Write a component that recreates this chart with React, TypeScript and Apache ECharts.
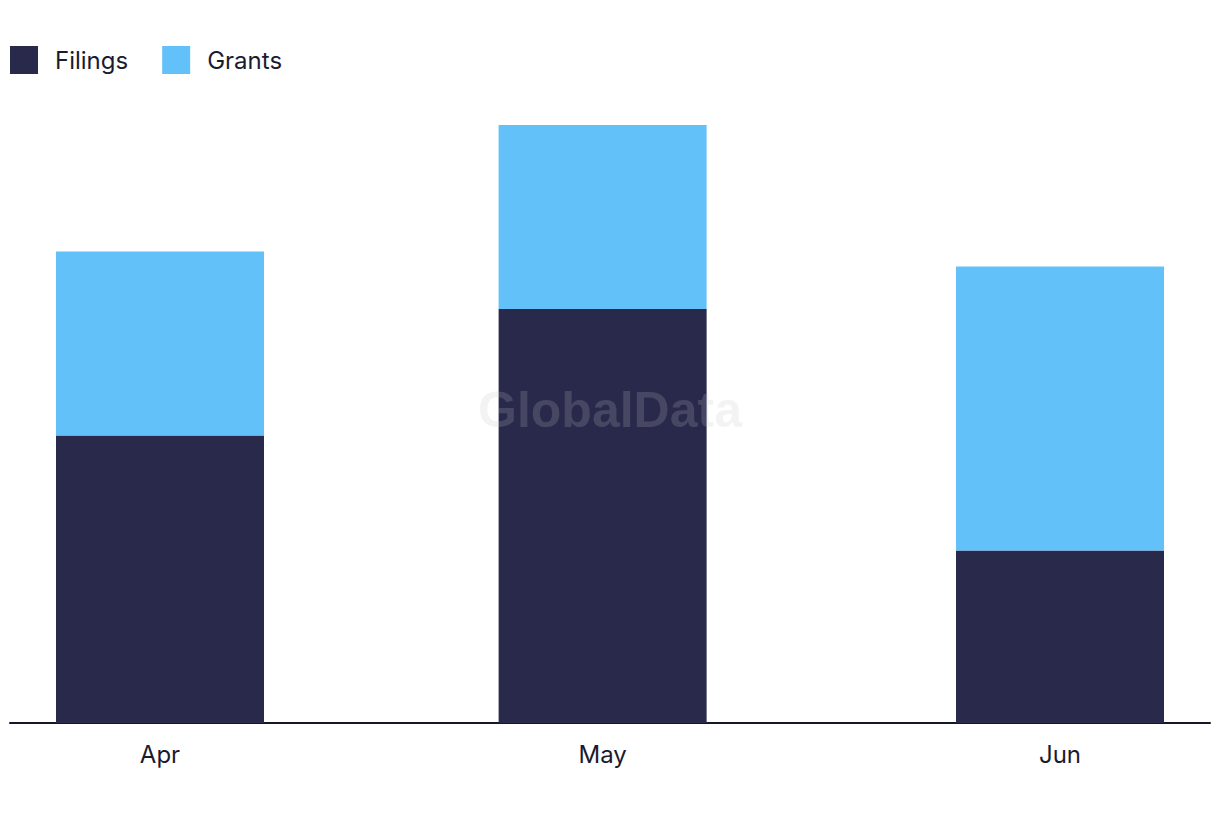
import React, { useEffect, useRef } from "react";
import * as echarts from "echarts";

const monthNames = ["Jan", "Feb", "Mar", "Apr", "May", "Jun", "Jul", "Aug", "Sep", "Oct", "Nov", "Dec"];
const periods = [new Date(2024, 3, 1).getTime(), new Date(2024, 4, 1).getTime(), new Date(2024, 5, 1).getTime()];
const filings = [25, 36, 15];
const grants = [16, 16, 24.7];
const seriesNames = ["Filings", "Grants"];

const DAY = 86400000;
// ECharts widens a time axis that carries bars by the bar overflow; this padding
// (in days) yields about 10 days of margin on each side after that widening.
const PAD_DAYS = 3.118;

export default function App() {
  const ref = useRef<HTMLDivElement>(null);
  useEffect(() => {
    document.body.style.margin = "0";
    const chart = echarts.init(ref.current!, null, { renderer: "svg" });
    const font = "Inter, 'Noto Sans', sans-serif";
    chart.setOption({
      animation: false,
      backgroundColor: "#ffffff",
      legend: {
        left: 10,
        top: 46,
        padding: 0,
        itemWidth: 28,
        itemHeight: 28,
        itemGap: 34,
        icon: "rect",
        data: seriesNames,
        textStyle: { fontSize: 24, color: "#1b1b30", fontFamily: font, padding: [0, 0, 6, 12] },
      },
      grid: { left: 10, right: 10, top: 33, bottom: 99, containLabel: false },
      xAxis: {
        type: "time",
        min: periods[0] - PAD_DAYS * DAY,
        max: periods[2] + PAD_DAYS * DAY,
        splitNumber: 3,
        axisLine: { show: true, onZero: false, lineStyle: { color: "#16162a", width: 2 } },
        axisTick: { show: false },
        splitLine: { show: false },
        axisLabel: {
          margin: 19,
          fontSize: 24,
          color: "#1b1b30",
          fontFamily: font,
          hideOverlap: false,
          showMinLabel: false,
          showMaxLabel: false,
          formatter: (v: number) => {
            const d = new Date(v);
            return periods.indexOf(v) >= 0 ? monthNames[d.getMonth()] : "";
          },
        },
      },
      yAxis: {
        type: "value",
        min: 0,
        max: 60,
        show: false,
        splitLine: { show: false },
      },
      graphic: [
        {
          type: "text",
          left: "center",
          top: 385,
          z: 100,
          style: {
            text: "GlobalData",
            fontSize: 50,
            fontWeight: "bold",
            fontFamily: "'Liberation Sans', Arial, sans-serif",
            fill: "rgba(196,196,196,0.2)",
          },
        },
      ],
      series: [
        {
          name: seriesNames[0],
          type: "bar",
          stack: "total",
          barWidth: 208,
          itemStyle: { color: "#28294b" },
          data: periods.map((t, i) => [t, filings[i]]),
        },
        {
          name: seriesNames[1],
          type: "bar",
          stack: "total",
          barWidth: 208,
          itemStyle: { color: "#63c1fa" },
          data: periods.map((t, i) => [t, grants[i]]),
        },
      ],
    });
    return () => chart.dispose();
  }, []);
  return <div ref={ref} style={{ width: 1220, height: 822 }} />;
}
